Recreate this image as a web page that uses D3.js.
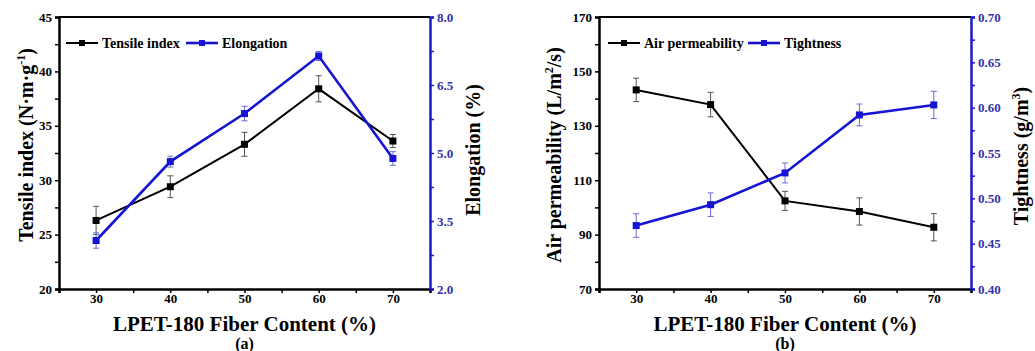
<!DOCTYPE html>
<html>
<head>
<meta charset="utf-8">
<script src="https://cdn.jsdelivr.net/npm/d3@7"></script>
<style>
  body { margin: 0; background: #fff; }
  svg text { font-family: "Liberation Serif", "DejaVu Serif", "Times New Roman", serif !important; font-weight: bold; }
</style>
</head>
<body>
<svg id="chart" width="1035" height="351"></svg>
<script>
// fiber content (%)
var content = [30, 40, 50, 60, 70];

// panel (a)
var tensile = [26.3, 29.4, 33.3, 38.4, 33.6];
var tensileErr = [1.3, 1.0, 1.1, 1.2, 0.6];
var elongation = [3.07, 4.81, 5.87, 7.14, 4.88];
var elongationErr = [0.17, 0.12, 0.16, 0.1, 0.15];

// panel (b)
var airPerm = [143.2, 137.8, 102.4, 98.5, 92.7];
var airPermErr = [4.3, 4.5, 3.5, 5.0, 5.0];
var tightness = [0.470, 0.493, 0.528, 0.592, 0.603];
var tightnessErr = [0.013, 0.013, 0.011, 0.012, 0.015];

var xTicks = [30, 40, 50, 60, 70];
var tensileTicks = [20, 25, 30, 35, 40, 45];
var elongTicks = [2.0, 3.5, 5.0, 6.5, 8.0];
var airTicks = [70, 90, 110, 130, 150, 170];
var tightTicks = [0.40, 0.45, 0.50, 0.55, 0.60, 0.65, 0.70];

var svg = d3.select("#chart");
var serif = "'Liberation Serif', 'DejaVu Serif', serif";
var blue = "#1414d2";
var axisBlue = "#1a1acc";
var tickBlue = "#3333aa";

function drawPanel(opt) {
  var g = svg.append("g");
  var x = d3.scaleLinear().domain([25, 75]).range([opt.left, opt.right]);
  var yL = d3.scaleLinear().domain(opt.leftDomain).range([289, 17]);
  var yR = d3.scaleLinear().domain(opt.rightDomain).range([289, 17]);

  // top border
  g.append("line")
    .attr("x1", opt.left).attr("x2", opt.right)
    .attr("y1", 17).attr("y2", 17)
    .attr("stroke", "#000").attr("stroke-width", 2);

  // x axis
  var xMinor = d3.range(25, 76, 5);
  var xa = g.append("g").attr("transform", "translate(0,289)")
    .call(d3.axisBottom(x).tickValues(xMinor).tickSize(4)
      .tickFormat(function(d) { return xTicks.includes(d) ? d : ""; }));
  styleAxis(xa, "#000", "#000");
  xa.selectAll("text").attr("y", 5).attr("dy", "0.71em");

  // left axis
  var lStep = opt.leftTicks[1] - opt.leftTicks[0];
  var lMinor = d3.range(opt.leftDomain[0], opt.leftDomain[1] + 0.001, lStep / 2);
  var la = g.append("g").attr("transform", "translate(" + opt.left + ",0)")
    .call(d3.axisLeft(yL).tickValues(lMinor).tickSize(4)
      .tickFormat(function(d) {
        return opt.leftTicks.some(function(t) { return Math.abs(t - d) < 1e-6; }) ? d3.format(opt.leftFmt)(d) : "";
      }));
  styleAxis(la, "#000", "#000");

  // right axis
  var rStep = opt.rightTicks[1] - opt.rightTicks[0];
  var rMinor = d3.range(0, Math.round((opt.rightDomain[1] - opt.rightDomain[0]) / (rStep / 2)) + 1)
    .map(function(i) { return opt.rightDomain[0] + i * rStep / 2; });
  var ra = g.append("g").attr("transform", "translate(" + opt.right + ",0)")
    .call(d3.axisRight(yR).tickValues(rMinor).tickSize(4)
      .tickFormat(function(d, i) { return i % 2 === 0 ? d3.format(opt.rightFmt)(d) : ""; }));
  styleAxis(ra, axisBlue, tickBlue);

  // series
  drawSeries(g, x, yL, opt.s1, opt.s1Err, "#000", "#555", 2);
  drawSeries(g, x, yR, opt.s2, opt.s2Err, blue, "#6a6ad8", 2.6);

  // legend
  var ly = 43;
  legendItem(g, opt.leg1x, ly, "#000", opt.name1, 2);
  legendItem(g, opt.leg2x, ly, blue, opt.name2, 2.6);

  // axis titles
  var lt = g.append("text")
    .attr("transform", "translate(" + opt.leftTitleX + "," + opt.leftTitleY + ") rotate(-90)")
    .attr("text-anchor", "middle")
    .attr("font-family", serif).attr("font-weight", "bold")
    .style("font-size", "20px");
  opt.leftTitle(lt);
  var rt = g.append("text")
    .attr("transform", "translate(" + opt.rightTitleX + "," + opt.rightTitleY + ") rotate(-90)")
    .attr("text-anchor", "middle")
    .attr("font-family", serif).attr("font-weight", "bold")
    .style("font-size", "20px");
  opt.rightTitle(rt);

  var cx = (opt.left + opt.right) / 2;
  g.append("text").attr("x", cx).attr("y", 331)
    .attr("text-anchor", "middle").style("font-size", "21px")
    .attr("font-family", serif).attr("font-weight", "bold")
    .text("LPET-180 Fiber Content (%)");
  g.append("text").attr("x", cx).attr("y", 349)
    .attr("text-anchor", "middle").style("font-size", "16px")
    .attr("font-family", serif).attr("font-weight", "bold")
    .text(opt.label);
}

function styleAxis(a, lineColor, textColor) {
  a.attr("font-family", serif);
  a.select(".domain").attr("stroke", lineColor).attr("stroke-width", 2.5);
  a.selectAll(".tick line").attr("stroke", lineColor).attr("stroke-width", 1.5);
  a.selectAll(".tick text").attr("fill", textColor)
    .style("font-size", "13px")
    .attr("font-weight", "bold");
}

function drawSeries(g, x, y, vals, errs, color, errColor, width) {
  var pts = content.map(function(c, i) { return { x: c, y: vals[i], e: errs[i] }; });
  var eb = g.append("g");
  pts.forEach(function(p) {
    var px = x(p.x);
    eb.append("line").attr("x1", px).attr("x2", px)
      .attr("y1", y(p.y - p.e)).attr("y2", y(p.y + p.e))
      .attr("stroke", errColor).attr("stroke-width", 1);
    [p.y - p.e, p.y + p.e].forEach(function(v) {
      eb.append("line").attr("x1", px - 3).attr("x2", px + 3)
        .attr("y1", y(v)).attr("y2", y(v))
        .attr("stroke", errColor).attr("stroke-width", 1);
    });
  });
  g.append("path").datum(pts)
    .attr("fill", "none").attr("stroke", color).attr("stroke-width", width)
    .attr("d", d3.line().x(function(d) { return x(d.x); }).y(function(d) { return y(d.y); }));
  g.selectAll(null).data(pts).enter().append("rect")
    .attr("x", function(d) { return x(d.x) - 3.5; })
    .attr("y", function(d) { return y(d.y) - 3.5; })
    .attr("width", 7).attr("height", 7)
    .attr("fill", color);
}

function legendItem(g, lx, ly, color, name, width) {
  g.append("line").attr("x1", lx).attr("x2", lx + 32)
    .attr("y1", ly).attr("y2", ly)
    .attr("stroke", color).attr("stroke-width", width);
  g.append("rect").attr("x", lx + 13).attr("y", ly - 3).attr("width", 6).attr("height", 6)
    .attr("fill", color);
  g.append("text").attr("x", lx + 36).attr("y", ly + 4.5)
    .attr("font-family", serif).attr("font-weight", "bold")
    .style("font-size", "14px").text(name);
}

drawPanel({
  left: 59, right: 430,
  leftDomain: [20, 45], rightDomain: [2, 8],
  leftTicks: tensileTicks, rightTicks: elongTicks,
  leftFmt: "d", rightFmt: ".1f",
  s1: tensile, s1Err: tensileErr, s2: elongation, s2Err: elongationErr,
  name1: "Tensile index", name2: "Elongation",
  leg1x: 66, leg2x: 186,
  leftTitleX: 33, leftTitleY: 145, rightTitleX: 480, rightTitleY: 150,
  leftTitle: function(t) {
    t.append("tspan").text("Tensile index (N\u00b7m\u00b7g");
    t.append("tspan").attr("dy", -8).style("font-size", "12px").text("-1");
    t.append("tspan").attr("dy", 8).text(")");
  },
  rightTitle: function(t) { t.text("Elongation (%)"); },
  label: "(a)"
});

drawPanel({
  left: 599, right: 971,
  leftDomain: [70, 170], rightDomain: [0.4, 0.7],
  leftTicks: airTicks, rightTicks: tightTicks,
  leftFmt: "d", rightFmt: ".2f",
  s1: airPerm, s1Err: airPermErr, s2: tightness, s2Err: tightnessErr,
  name1: "Air permeability", name2: "Tightness",
  leg1x: 608, leg2x: 748,
  leftTitleX: 561, leftTitleY: 155, rightTitleX: 1028, rightTitleY: 156,
  leftTitle: function(t) {
    t.append("tspan").text("Air permeability (L/m");
    t.append("tspan").attr("dy", -8).style("font-size", "12px").text("2");
    t.append("tspan").attr("dy", 8).text("/s)");
  },
  rightTitle: function(t) {
    t.append("tspan").text("Tightness (g/m");
    t.append("tspan").attr("dy", -8).style("font-size", "12px").text("3");
    t.append("tspan").attr("dy", 8).text(")");
  },
  label: "(b)"
});
</script>
</body>
</html>
